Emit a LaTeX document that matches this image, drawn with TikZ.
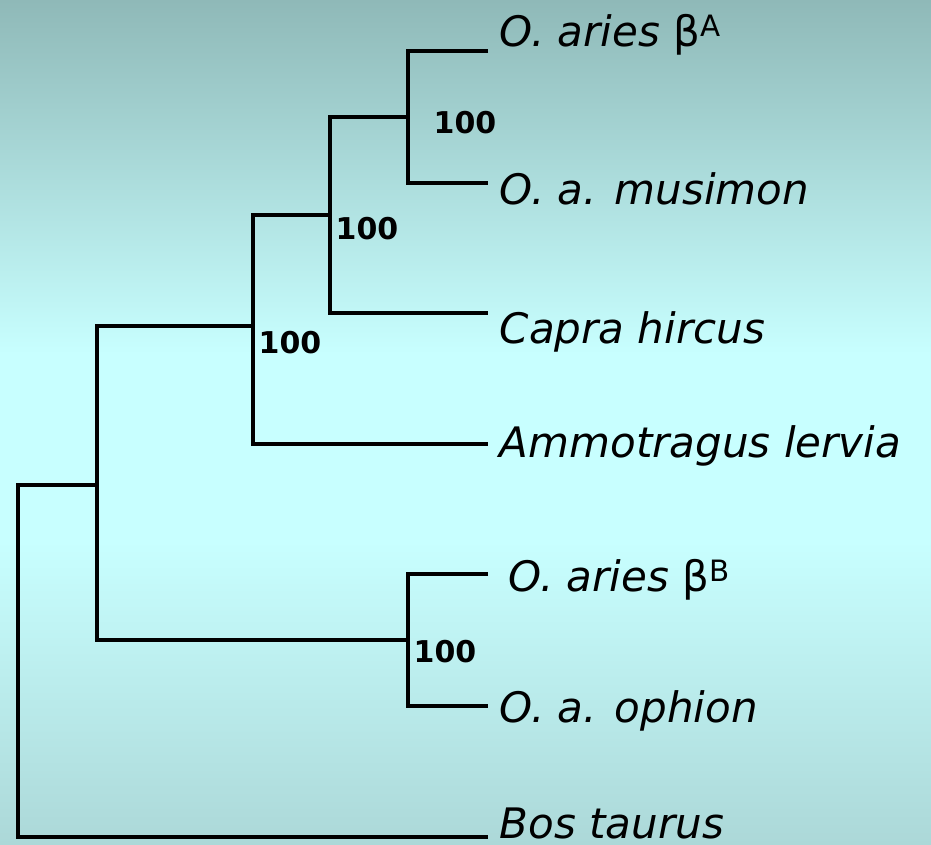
\documentclass[tikz,border=0pt]{standalone}
\usepackage{fontspec}
\setmainfont{DejaVu Sans}
\usetikzlibrary{positioning,calc}

\definecolor{bgtop}{RGB}{143,185,184}
\definecolor{bgmid}{RGB}{200,255,255}
\definecolor{bgbot}{RGB}{172,216,216}
\pgfdeclareverticalshading{treebg}{100bp}{color(0bp)=(bgbot); color(25bp)=(bgbot);
  color(43bp)=(bgmid); color(54bp)=(bgmid); color(75bp)=(bgtop); color(100bp)=(bgtop)}

\begin{document}
\begin{tikzpicture}[x=1pt, y=-1pt, line width=3.6pt,
    taxon/.style={anchor=base west, inner sep=0pt, font=\fontsize{42}{48}\selectfont\itshape},
    boot/.style={inner sep=0pt, font=\fontsize{30}{32}\selectfont\bfseries}]
  % background
  \shade[shading=treebg, line width=0pt] (0pt,0pt) rectangle (931pt,-844pt);
  \useasboundingbox (0,0) rectangle (931,844);

  % leaf tips and inner nodes
  \coordinate (tA) at (488,51);
  \coordinate (tB) at (488,183);
  \coordinate (tC) at (488,313);
  \coordinate (tD) at (488,444);
  \coordinate (tE) at (488,574);
  \coordinate (tF) at (488,706);
  \coordinate (tG) at (488,837);
  \coordinate (a1) at (408,117);
  \coordinate (a2) at (330,215);
  \coordinate (a3) at (253,326);
  \coordinate (b1) at (408,640);
  \coordinate (r1) at (97,485);
  \coordinate (rt) at (18,485);

  \node[taxon] (ariesA) at (498,46) {O. aries {\upshape β\textsuperscript{A}}};
  \node[taxon] (musimon) at (498,204) {O. a. musimon};
  \node[taxon] (capra) at (498,343) {Capra hircus};
  \node[taxon] (ammo) at (498,457) {Ammotragus lervia};
  \node[taxon] (ariesB) at (507,591) {O. aries {\upshape β\textsuperscript{B}}};
  \node[taxon] (ophion) at (498,722) {O. a. ophion};
  \node[taxon] (bos) at (498,838) {Bos taurus};

  % branches
  \draw (tA) -| (a1) |- (tB);
  \draw (a1) -| (a2) |- (tC);
  \draw (a2) -| (a3) |- (tD);
  \draw (tE) -| (b1) |- (tF);
  \draw (a3) -| (r1) |- (b1);
  \draw (r1) -- (rt) |- (tG);

  % bootstrap values
  \node[boot] (bs1) at (465,123) {100};
  \node[boot] (bs2) at (367,229) {100};
  \node[boot] (bs3) at (290,343) {100};
  \node[boot] (bs4) at (445,652) {100};
\end{tikzpicture}
\end{document}
